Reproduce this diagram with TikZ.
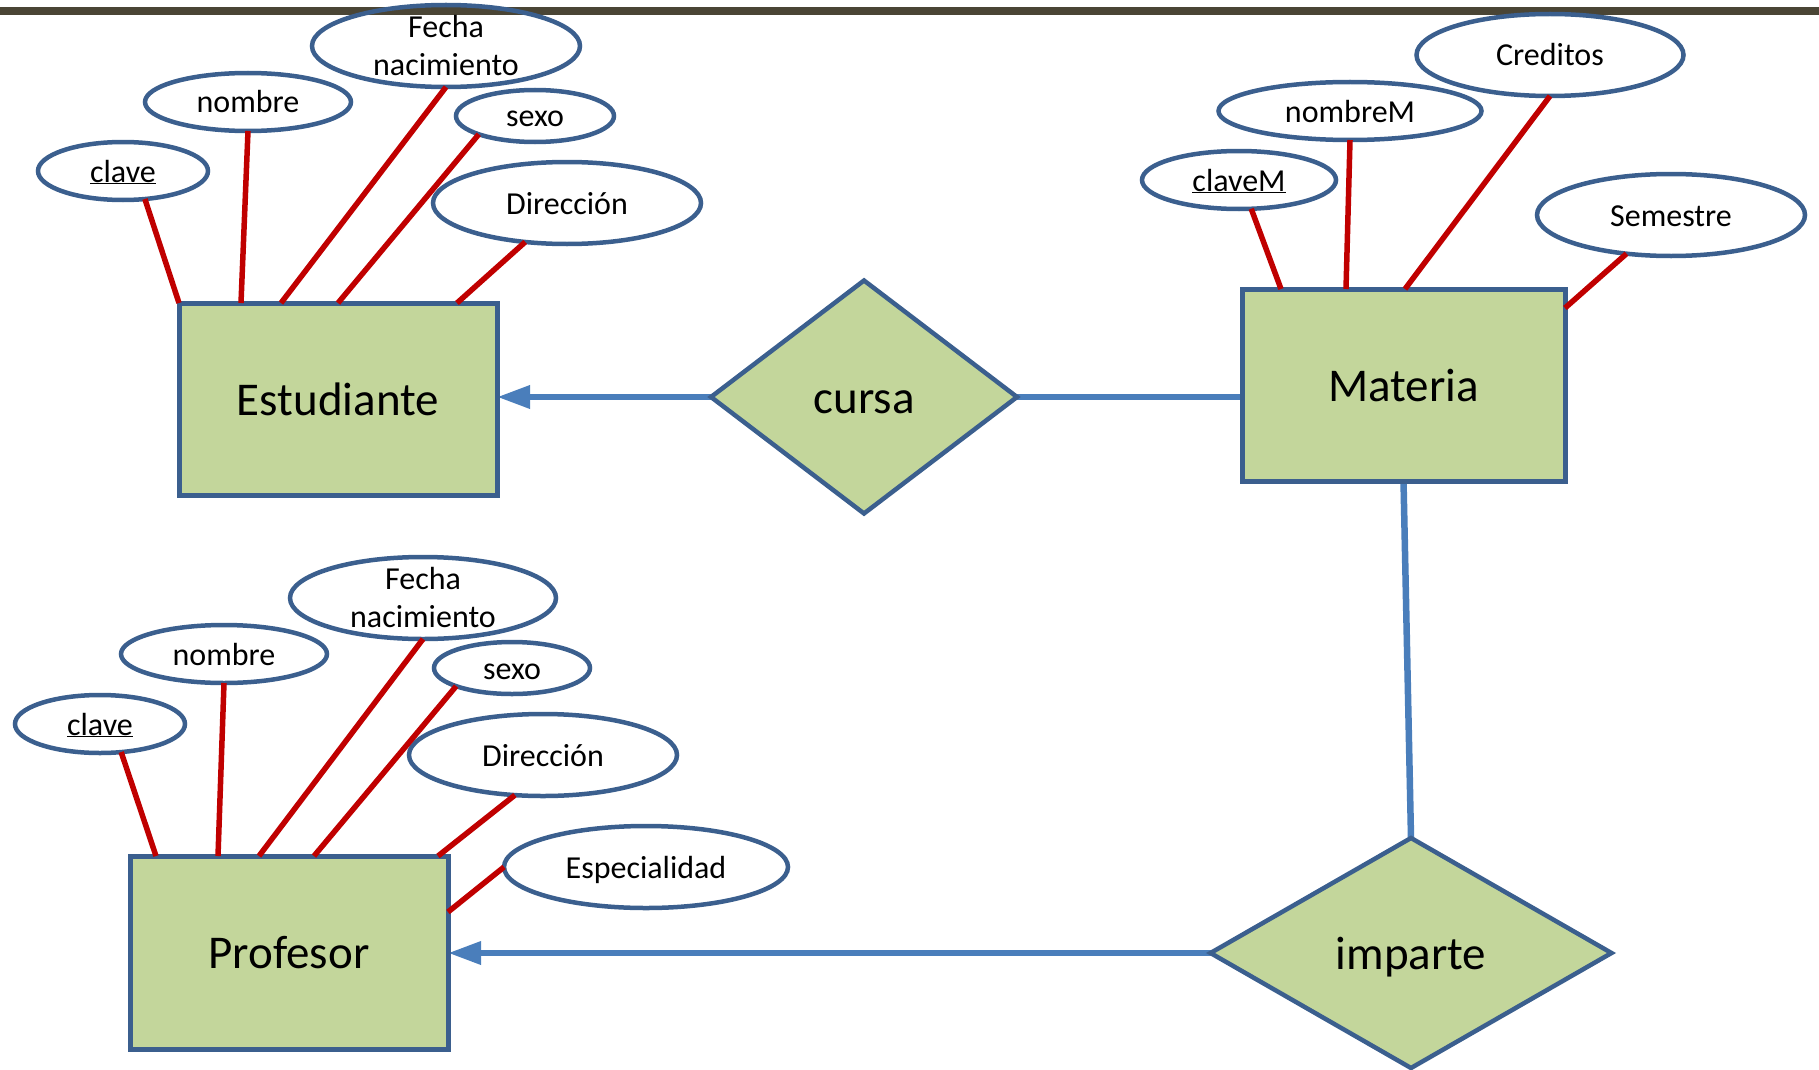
\documentclass[tikz,border=0pt]{standalone}
\usepackage{fontspec}
\setmainfont{Carlito}
\usetikzlibrary{shapes.geometric,arrows.meta,backgrounds}
\definecolor{entfill}{HTML}{C3D69B}
\definecolor{edgeblue}{HTML}{3B5F8E}
\definecolor{linkblue}{HTML}{4A7EBB}
\definecolor{attrred}{HTML}{C00000}
\definecolor{barcol}{HTML}{4A4535}
\begin{document}
\begin{tikzpicture}[x=1pt,y=-1pt,
  entity/.style={rectangle, fill=entfill, draw=edgeblue, line width=5pt,
    outer sep=0pt, inner sep=0pt, text height=32pt, text depth=0pt,
    font=\fontsize{47}{56}\selectfont},
  relation/.style={diamond, fill=entfill, draw=edgeblue, line width=4.5pt,
    outer sep=0pt, inner sep=0pt, text height=32pt, text depth=0pt,
    font=\fontsize{47}{56}\selectfont},
  attr/.style={ellipse, draw=edgeblue, line width=4.5pt, outer sep=0pt, inner sep=0pt},
  attrtext/.style={font=\fontsize{32}{38}\selectfont, inner sep=0pt,
    text height=22pt, text depth=0pt},
  attrtwo/.style={font=\fontsize{32}{38}\selectfont, inner sep=0pt, align=center},
  attrlink/.style={draw=attrred, line width=5.5pt},
  rellink/.style={draw=linkblue, line width=6.5pt},
  tip/.style={-{Triangle[length=33pt,width=22pt]}}
]
\useasboundingbox (0,0) rectangle (1819,1070);

% dark rule along the top edge
\fill[barcol] (0,7) rectangle (1819,15);

% ---------- entities ----------
\node[entity, minimum width=318pt, minimum height=192pt] (est) at (338,399) {Estudiante};
\node[entity, minimum width=323pt, minimum height=192pt] (mat) at (1403.5,385) {Materia};
\node[entity, minimum width=318pt, minimum height=193pt] (prof) at (289,952.5) {Profesor};

% ---------- relationships ----------
\node[relation, minimum width=306pt, minimum height=233pt] (cursa) at (864,397) {cursa};
\node[relation, minimum width=401pt, minimum height=230pt] (imparte) at (1411,953) {imparte};

% ---------- attributes of Estudiante ----------
\node[attr, minimum width=170pt, minimum height=58pt] (eclave) at (123,171) {};
\node[attr, minimum width=206pt, minimum height=58pt] (enombre) at (248,102) {};
\node[attr, minimum width=268pt, minimum height=82pt] (efecha) at (446,46) {};
\node[attr, minimum width=158pt, minimum height=52pt] (esexo) at (535,116) {};
\node[attr, minimum width=268pt, minimum height=82pt] (edir) at (567,203) {};

% ---------- attributes of Materia ----------
\node[attr, minimum width=194pt, minimum height=58pt] (mclave) at (1239,180) {};
\node[attr, minimum width=263pt, minimum height=58pt] (mnombre) at (1350,111) {};
\node[attr, minimum width=267pt, minimum height=82pt] (mcred) at (1550,55) {};
\node[attr, minimum width=268pt, minimum height=82pt] (msem) at (1671,215) {};

% ---------- attributes of Profesor ----------
\node[attr, minimum width=170pt, minimum height=58pt] (pclave) at (100,724) {};
\node[attr, minimum width=206pt, minimum height=58pt] (pnombre) at (224,654) {};
\node[attr, minimum width=266pt, minimum height=82pt] (pfecha) at (423,598) {};
\node[attr, minimum width=156pt, minimum height=52pt] (psexo) at (512,668) {};
\node[attr, minimum width=268pt, minimum height=82pt] (pdir) at (543,755) {};
\node[attr, minimum width=284pt, minimum height=82pt] (pesp) at (646,867) {};

% ---------- relationship connectors ----------
\begin{scope}[on background layer]
  \draw[rellink, tip] (cursa.west) -- (cursa.west -| est.east);
  \draw[rellink] (cursa.east) -- (cursa.east -| mat.west);
  \draw[rellink] (mat.south) -- (imparte.north);
  \draw[rellink, tip] (imparte.west) -- (imparte.west -| prof.east);
\end{scope}

% ---------- attribute connectors ----------
\draw[attrlink] (eclave.308) -- (est.north west);
\draw[attrlink] (enombre.270) -- ([xshift=62pt]est.north west);
\draw[attrlink] (efecha.270) -- ([xshift=102pt]est.north west);
\draw[attrlink] (esexo.198) -- ([xshift=159pt]est.north west);
\draw[attrlink] (edir.223) -- ([xshift=278pt]est.north west);

\draw[attrlink] (mclave.293) -- ([xshift=39pt]mat.north west);
\draw[attrlink] (mnombre.270) -- ([xshift=104pt]mat.north west);
\draw[attrlink] (mcred.270) -- ([xshift=163pt]mat.north west);
\draw[attrlink] (msem.221) -- ([yshift=-19pt]mat.north east);

\draw[attrlink] (pclave.307) -- ([xshift=26pt]prof.north west);
\draw[attrlink] (pnombre.270) -- ([xshift=88pt]prof.north west);
\draw[attrlink] (pfecha.270) -- ([xshift=129pt]prof.north west);
\draw[attrlink] (psexo.198) -- ([xshift=184pt]prof.north west);
\draw[attrlink] (pdir.235) -- ([xshift=308pt]prof.north west);
\draw[attrlink] (pesp.180) -- ([yshift=-56pt]prof.north east);

% ---------- attribute names ----------
\node[attrtext] (teclave) at (eclave) {\underline{clave}};
\node[attrtext] (tenombre) at (enombre) {nombre};
\node[attrtwo] (tefecha) at (efecha) {Fecha\\nacimiento};
\node[attrtext] (tesexo) at (esexo) {sexo};
\node[attrtext] (tedir) at (edir) {Dirección};

\node[attrtext] (tmclave) at (mclave) {\underline{claveM}};
\node[attrtext] (tmnombre) at (mnombre) {nombreM};
\node[attrtext] (tmcred) at (mcred) {Creditos};
\node[attrtext] (tmsem) at (msem) {Semestre};

\node[attrtext] (tpclave) at (pclave) {\underline{clave}};
\node[attrtext] (tpnombre) at (pnombre) {nombre};
\node[attrtwo] (tpfecha) at (pfecha) {Fecha\\nacimiento};
\node[attrtext] (tpsexo) at (psexo) {sexo};
\node[attrtext] (tpdir) at (pdir) {Dirección};
\node[attrtext] (tpesp) at (pesp) {Especialidad};
\end{tikzpicture}
\end{document}
